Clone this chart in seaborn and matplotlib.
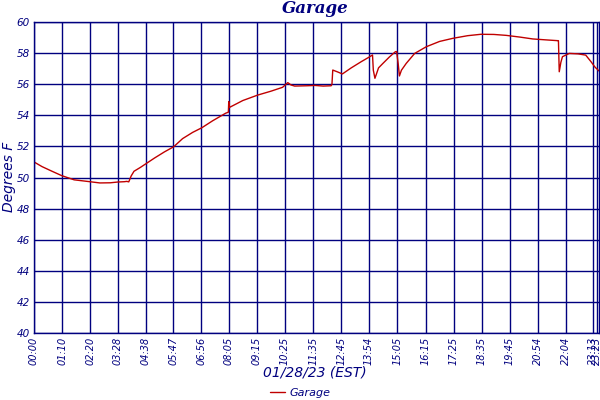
import numpy as np
import pandas as pd
import matplotlib
matplotlib.use("Agg")
import matplotlib.pyplot as plt
import seaborn as sns

# readings (minutes after midnight, deg F)
minutes = [0, 20, 45, 69, 100, 139, 164, 190, 209, 225, 231, 236, 242, 249,
           265, 279, 300, 325, 348, 370, 395, 418, 445, 477, 484, 485, 487,
           520, 557, 590, 619, 632, 640, 649, 680, 700, 720, 740, 742, 744,
           755, 768, 790, 815, 835, 843, 845, 849, 852, 858, 869, 885, 900,
           903, 907, 910, 915, 927, 948, 977, 1010, 1043, 1080, 1113, 1145,
           1176, 1210, 1242, 1275, 1304, 1306, 1308, 1312, 1316, 1333, 1355,
           1374, 1387, 1397, 1407]
temps = [51.0, 50.7, 50.4, 50.12, 49.85, 49.73, 49.65, 49.66, 49.71, 49.73,
         49.75, 49.72, 50.1, 50.4, 50.65, 50.89, 51.25, 51.65, 51.98, 52.5,
         52.9, 53.2, 53.65, 54.13, 54.2, 54.88, 54.51, 54.95, 55.3, 55.55,
         55.8, 56.1, 55.95, 55.88, 55.9, 55.92, 55.88, 55.9, 56.0, 56.91,
         56.8, 56.66, 57.05, 57.45, 57.75, 57.88, 56.9, 56.38, 56.6, 57.05,
         57.34, 57.75, 58.09, 58.1, 57.3, 56.53, 56.9, 57.34, 57.98, 58.41,
         58.75, 58.95, 59.12, 59.21, 59.2, 59.14, 59.03, 58.91, 58.85, 58.8,
         58.8, 56.8, 57.4, 57.77, 57.98, 57.95, 57.87, 57.45, 57.1, 56.85]

tick_labels = ["00:00", "01:10", "02:20", "03:28", "04:38", "05:47", "06:56",
               "08:05", "09:15", "10:25", "11:35", "12:45", "13:54", "15:05",
               "16:15", "17:25", "18:35", "19:45", "20:54", "22:04", "23:13",
               "23:23"]

navy = "#00007f"
line_red = "#c00000"

df = pd.DataFrame({"minute": minutes, "temp": temps, "sensor": "Garage"})

sns.set_style("white")
plt.rcParams["font.family"] = ["DejaVu Sans"]

fig = plt.figure(figsize=(6, 4), dpi=100)
ax = fig.add_axes([34 / 600, 67 / 400, 565 / 600, 311 / 400])

sns.lineplot(data=df, x="minute", y="temp", hue="sensor",
             palette=[line_red], linewidth=1.0, ax=ax, legend=True)

tick_pos = [int(t[:2]) * 60 + int(t[3:]) for t in tick_labels]
ax.set_xlim(0, 1407)
ax.set_ylim(40, 60)
ax.set_xticks(tick_pos)
ax.set_xticklabels(tick_labels, rotation=90, fontsize=7, style="italic",
                   color=navy)
ax.set_yticks(np.arange(40, 61, 2))
ax.set_yticklabels([str(v) for v in range(40, 61, 2)], fontsize=7.5,
                   style="italic", color=navy)
ax.tick_params(axis="both", length=0, pad=3)
ax.grid(True, color=navy, linewidth=1.0)
ax.set_axisbelow(True)
for s in ax.spines.values():
    s.set_color(navy)
    s.set_linewidth(1.0)

ax.set_xlabel("")
ax.set_ylabel("")
fig.text(0.525, 1 - 372 / 400, "01/28/23 (EST)", ha="center", va="center",
         fontsize=10, style="italic", color=navy)
fig.text(9 / 600, 1 - 177 / 400, "Degrees F", rotation=90, ha="center",
         va="center", fontsize=10, style="italic", color=navy)
fig.text(0.525, 0.978, "Garage", ha="center", va="center", fontsize=12,
         style="italic", weight="bold", color=navy, family="DejaVu Serif")

handles, labels = ax.get_legend_handles_labels()
ax.get_legend().remove()
leg = fig.legend(handles, labels, loc="center", bbox_to_anchor=(0.5, 0.018),
                 frameon=False, fontsize=8, handlelength=1.4,
                 handletextpad=0.4, borderpad=0, borderaxespad=0)
for t in leg.get_texts():
    t.set_color(navy)
    t.set_style("italic")

fig.savefig("out.png", dpi=100)
